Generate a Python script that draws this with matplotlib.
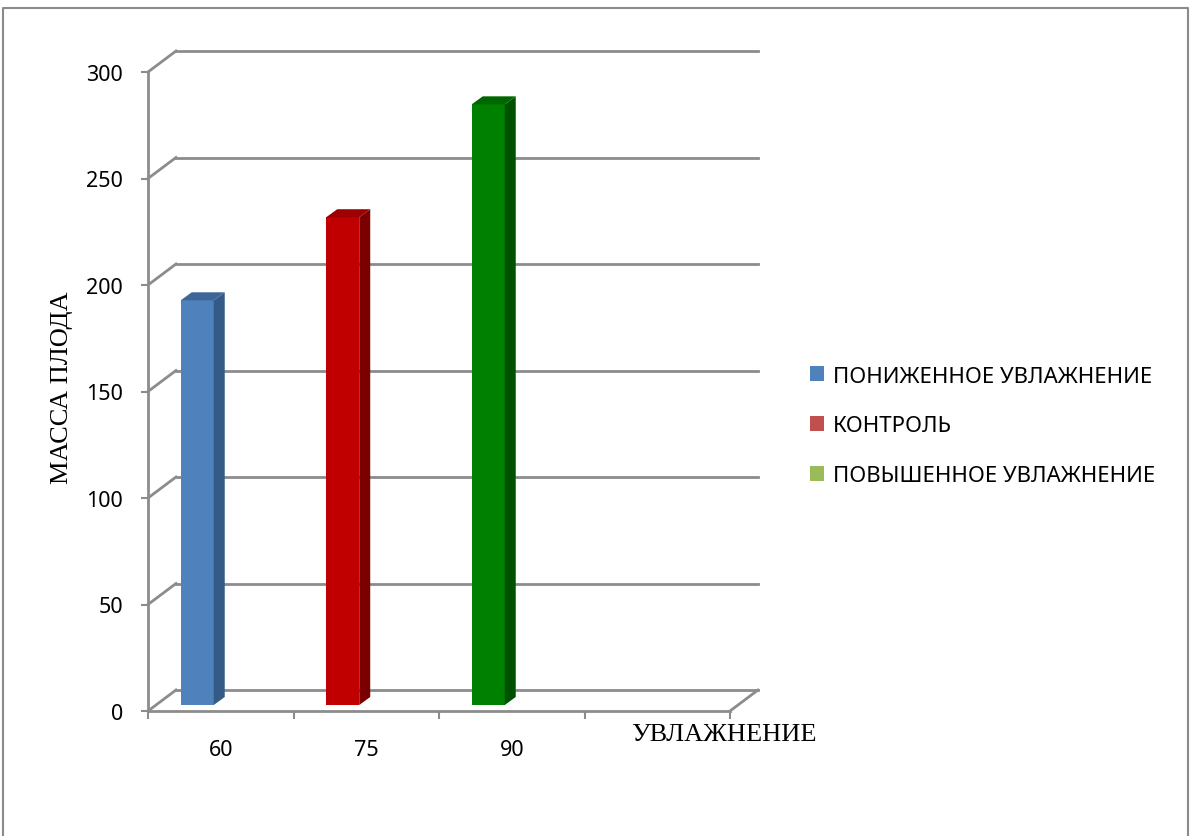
import matplotlib
matplotlib.use("Agg")
import matplotlib.pyplot as plt
from matplotlib.patches import Polygon, Patch
from matplotlib.lines import Line2D

categories = ["60", "75", "90", ""]
series_names = ["ПОНИЖЕННОЕ УВЛАЖНЕНИЕ", "КОНТРОЛЬ", "ПОВЫШЕННОЕ УВЛАЖНЕНИЕ"]
values = [190, 229, 282]          # one value per series, in categories 60 / 75 / 90
y_ticks = [0, 50, 100, 150, 200, 250, 300]
x_title = "УВЛАЖНЕНИЕ"
y_title = "МАССА ПЛОДА"

front_colors = ["#4f81bd", "#c00000", "#008000"]
side_colors = ["#345a86", "#7a0000", "#005200"]
top_colors = ["#3e6699", "#9c0000", "#006600"]
legend_colors = ["#4f81bd", "#c0504d", "#9bbb59"]

grid_col = "#8c8c8c"
sans = ["Noto Sans", "DejaVu Sans"]
serif = ["Liberation Serif", "DejaVu Serif"]

W, H = 1190, 837
fig = plt.figure(figsize=(W / 100, H / 100), dpi=100)

# axes: front axis x=148..730 px, y=712 (0) .. 73 (300)
ax = fig.add_axes([148 / W, (H - 712) / H, (730 - 148) / W, (712 - 73) / H])
ax.set_xlim(0, len(categories))
ax.set_ylim(0, 300)
ax.patch.set_visible(False)
for s in ax.spines.values():
    s.set_visible(False)

# depth of the back wall in data units
DX = 28 / 145.5
DY = 21 / 2.13
n = len(categories)

# back wall gridlines + connectors
for v in y_ticks:
    ax.add_line(Line2D([DX, n + DX], [v + DY, v + DY], color=grid_col, lw=2, zorder=1, clip_on=False))
    ax.add_line(Line2D([0, DX], [v, v + DY], color=grid_col, lw=2, zorder=1, clip_on=False))
# floor
ax.add_line(Line2D([n, n + DX], [0, DY], color=grid_col, lw=2, zorder=1, clip_on=False))
ax.add_line(Line2D([0, n], [0, 0], color=grid_col, lw=2, zorder=4, clip_on=False))
ax.add_line(Line2D([0, 0], [0, 300], color=grid_col, lw=2, zorder=4, clip_on=False))

# bars with fake 3D faces
bw = 33 / 145.5
bx0 = 0.225
base = 6 / 2.13
bdx = 11 / 145.5
bdy = 8 / 2.13
for i, v in enumerate(values):
    xl = i + bx0
    xr = xl + bw
    top = base + v
    ax.bar(xl, v, width=bw, bottom=base, align="edge", color=front_colors[i], zorder=3)
    ax.add_patch(Polygon([(xr, base), (xr + bdx, base + bdy), (xr + bdx, top + bdy), (xr, top)],
                         closed=True, color=side_colors[i], zorder=3, lw=0))
    ax.add_patch(Polygon([(xl, top), (xl + bdx, top + bdy), (xr + bdx, top + bdy), (xr, top)],
                         closed=True, color=top_colors[i], zorder=3, lw=0))

# ticks
ax.set_yticks(y_ticks)
ax.set_yticklabels([str(v) for v in y_ticks], fontfamily=sans, fontsize=15.5)
ax.tick_params(axis="y", length=5, width=1.5, color=grid_col, pad=13)
ax.set_xticks(range(n + 1))
ax.set_xticklabels([])
ax.set_xticks([i + 0.5 for i in range(n)], minor=True)
ax.set_xticklabels(categories, minor=True, fontfamily=sans, fontsize=15.5)
ax.tick_params(axis="x", which="major", length=6, width=1.5, color=grid_col)
ax.tick_params(axis="x", which="minor", length=0, pad=20)

fig.text(724 / W, 1 - 735 / H, x_title, ha="center", va="center", fontfamily=serif, fontsize=19)
fig.text(62 / W, 1 - 388 / H, y_title, ha="center", va="center", rotation=90, fontfamily=serif, fontsize=19)

handles = [Patch(facecolor=c, edgecolor="none") for c in legend_colors]
fig.legend(handles, series_names, loc="center left", bbox_to_anchor=(790 / W, 1 - 427 / H),
           frameon=False, prop={"family": sans, "size": 16}, handlelength=0.65, handleheight=0.65,
           handletextpad=0.4, labelspacing=1.3)

# outer chart border (left, top, right)
fig.add_artist(Line2D([3 / W, 3 / W, 1188 / W, 1188 / W], [0, 1 - 9 / H, 1 - 9 / H, 0],
                      transform=fig.transFigure, color="#8a8a8a", lw=1.5))

fig.savefig("out.png", dpi=100)
